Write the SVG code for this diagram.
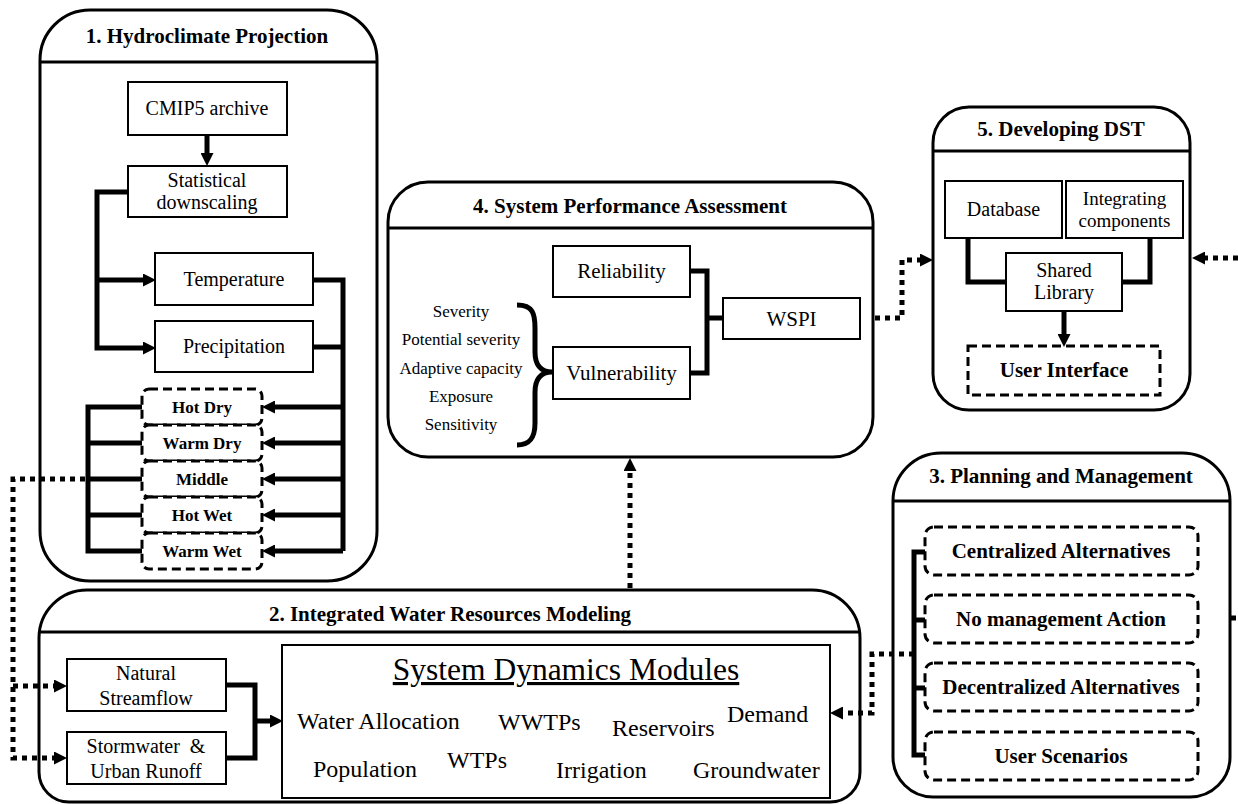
<svg xmlns="http://www.w3.org/2000/svg" width="1238" height="804" viewBox="0 0 1238 804">
<defs>
<marker id="ah" viewBox="0 0 10 10" refX="0" refY="5" markerWidth="13" markerHeight="13" markerUnits="userSpaceOnUse" orient="auto"><path d="M0,0 L10,5 L0,10 z" fill="#000"/></marker>
</defs>
<style>
text{font-family:"Liberation Serif","Times New Roman",serif;fill:#000}
.t{font-weight:bold;font-size:21px;text-anchor:middle}
.b{fill:#fff;stroke:#000;stroke-width:2}
.o{fill:none;stroke:#000;stroke-width:3}
.d{fill:#fff;stroke:#000;stroke-width:3;stroke-dasharray:9 5}
.n{font-size:20px;text-anchor:middle}
.s{font-weight:bold;font-size:17px;text-anchor:middle}
.m{font-size:24px}
.c{fill:none;stroke:#000;stroke-width:5}
.dot{fill:none;stroke:#000;stroke-width:5;stroke-dasharray:5 5}
.a{marker-end:url(#ah)}
</style>
<rect width="1238" height="804" fill="#fff"/>

<g id="n1">
<path class="o" d="M90,10 H327 A50,50 0 0 1 377,60 V531 A50,50 0 0 1 327,581 H90 A50,50 0 0 1 40,531 V60 A50,50 0 0 1 90,10 Z"/>
<line class="o" x1="40" y1="62" x2="377" y2="62"/>
<text class="t" x="207" y="43">1. Hydroclimate Projection</text>
</g>
<g id="cmip5"><rect class="b" x="128" y="82" width="159" height="53"/><text class="n" x="207" y="115">CMIP5 archive</text></g>
<g id="downscaling"><rect class="b" x="128" y="166" width="159" height="51"/><text class="n" x="207" y="187">Statistical</text><text class="n" x="207" y="209">downscaling</text></g>
<g id="temperature"><rect class="b" x="155" y="253" width="158" height="52"/><text class="n" x="234" y="286">Temperature</text></g>
<g id="precipitation"><rect class="b" x="155" y="321" width="158" height="51"/><text class="n" x="234" y="353">Precipitation</text></g>
<g id="hotdry"><rect class="d" x="142" y="389" width="120" height="36" rx="7"/><text class="s" x="202" y="413">Hot Dry</text></g>
<g id="warmdry"><rect class="d" x="142" y="425" width="120" height="36" rx="7"/><text class="s" x="202" y="449">Warm Dry</text></g>
<g id="middle"><rect class="d" x="142" y="461" width="120" height="36" rx="7"/><text class="s" x="202" y="485">Middle</text></g>
<g id="hotwet"><rect class="d" x="142" y="497" width="120" height="36" rx="7"/><text class="s" x="202" y="521">Hot Wet</text></g>
<g id="warmwet"><rect class="d" x="142" y="533" width="120" height="36" rx="7"/><text class="s" x="202" y="557">Warm Wet</text></g>

<g id="n2">
<path class="o" d="M87,590 H812 A48,48 0 0 1 860,638 V772 A30,30 0 0 1 830,802 H69 A30,30 0 0 1 39,772 V638 A48,48 0 0 1 87,590 Z"/>
<line class="o" x1="39" y1="632" x2="860" y2="632"/>
<text class="t" x="450" y="621">2. Integrated Water Resources Modeling</text>
</g>
<g id="streamflow"><rect class="b" x="67" y="659" width="159" height="52"/><text class="n" x="146" y="680">Natural</text><text class="n" x="146" y="705">Streamflow</text></g>
<g id="stormwater"><rect class="b" x="67" y="732" width="159" height="52"/><text class="n" x="146" y="753" xml:space="preserve">Stormwater  &amp;</text><text class="n" x="146" y="778">Urban Runoff</text></g>
<g id="sdm">
<rect class="b" x="282" y="645" width="548" height="153"/>
<text x="566" y="680" font-size="31.5" text-anchor="middle" text-decoration="underline">System Dynamics Modules</text>
<text class="m" x="297" y="729">Water Allocation</text>
<text class="m" x="498" y="730">WWTPs</text>
<text class="m" x="612" y="736">Reservoirs</text>
<text class="m" x="727" y="722">Demand</text>
<text class="m" x="313" y="777">Population</text>
<text class="m" x="447" y="768">WTPs</text>
<text class="m" x="556" y="778">Irrigation</text>
<text class="m" x="693" y="778">Groundwater</text>
</g>

<g id="n3">
<path class="o" d="M941,453 H1182 A48,48 0 0 1 1230,501 V757 A40,40 0 0 1 1190,797 H933 A40,40 0 0 1 893,757 V501 A48,48 0 0 1 941,453 Z"/>
<line class="o" x1="893" y1="501" x2="1230" y2="501"/>
<text class="t" x="1061" y="483">3. Planning and Management</text>
</g>
<g id="centralized"><rect class="d" x="925" y="527" width="273" height="48" rx="9"/><text class="t" x="1061" y="558">Centralized Alternatives</text></g>
<g id="nomanagement"><rect class="d" x="925" y="595" width="273" height="48" rx="9"/><text class="t" x="1061" y="626">No management Action</text></g>
<g id="decentralized"><rect class="d" x="925" y="663" width="273" height="48" rx="9"/><text class="t" x="1061" y="694">Decentralized Alternatives</text></g>
<g id="userscenarios"><rect class="d" x="925" y="732" width="273" height="48" rx="9"/><text class="t" x="1061" y="763">User Scenarios</text></g>

<g id="n4">
<path class="o" d="M428,182 H833 A40,40 0 0 1 873,222 V417 A40,40 0 0 1 833,457 H428 A40,40 0 0 1 388,417 V222 A40,40 0 0 1 428,182 Z"/>
<line class="o" x1="388" y1="228" x2="873" y2="228"/>
<text class="t" x="630" y="213">4. System Performance Assessment</text>
</g>
<g id="reliability"><rect class="b" x="553" y="246" width="137" height="51"/><text x="621.5" y="278" font-size="21" text-anchor="middle">Reliability</text></g>
<g id="vulnerability"><rect class="b" x="553" y="347" width="137" height="52"/><text x="621.5" y="380" font-size="21" text-anchor="middle">Vulnerability</text></g>
<g id="wspi"><rect class="b" x="723" y="298" width="137" height="41"/><text x="791.5" y="326" font-size="21" text-anchor="middle">WSPI</text></g>
<g id="factors" font-size="17" text-anchor="middle">
<text x="461" y="317">Severity</text>
<text x="461" y="345">Potential severity</text>
<text x="461" y="374">Adaptive capacity</text>
<text x="461" y="402">Exposure</text>
<text x="461" y="430">Sensitivity</text>
</g>

<g id="n5">
<path class="o" d="M969,107 H1154 A36,36 0 0 1 1190,143 V374 A36,36 0 0 1 1154,410 H969 A36,36 0 0 1 933,374 V143 A36,36 0 0 1 969,107 Z"/>
<line class="o" x1="933" y1="151" x2="1190" y2="151"/>
<text class="t" x="1061" y="136">5. Developing DST</text>
</g>
<g id="database"><rect class="b" x="945" y="181" width="117" height="57"/><text class="n" x="1003.5" y="216">Database</text></g>
<g id="integrating"><rect class="b" x="1066" y="181" width="117" height="57"/><text x="1124.5" y="205" font-size="19" text-anchor="middle">Integrating</text><text x="1124.5" y="227" font-size="19" text-anchor="middle">components</text></g>
<g id="sharedlib"><rect class="b" x="1006" y="253" width="116" height="58"/><text class="n" x="1064" y="277">Shared</text><text class="n" x="1064" y="299">Library</text></g>
<g id="userinterface"><rect fill="#fff" stroke="#000" stroke-width="3" stroke-dasharray="9 5" x="968" y="346" width="192" height="49"/><text class="t" x="1064" y="377">User Interface</text></g>

<g id="connectors">
<path class="c a" d="M207,135 V153"/>
<path class="c a" d="M128,192 H97 V348 H143"/>
<path class="c a" d="M97,280 H143"/>
<path class="c" d="M313,280 H343 V551"/>
<path class="c" d="M313,347 H343"/>
<path class="c a" d="M343,407 H275"/>
<path class="c a" d="M343,443 H275"/>
<path class="c a" d="M343,479 H275"/>
<path class="c a" d="M343,515 H275"/>
<path class="c a" d="M343,551 H275"/>
<path class="c" d="M142,407 H88 V551 H142"/>
<path class="c" d="M88,443 H142 M88,479 H142 M88,515 H142"/>
<path class="dot a" d="M85,479 H13 V758 H54"/>
<path class="dot a" d="M13,686 H54"/>
<path class="c" d="M226,685 H255 V758 H226"/>
<path class="c a" d="M255,721 H270"/>
<path class="c" d="M690,271 H707 V373 H690 M707,318 H723"/>
<path class="c" d="M517,305 C533,305 535,314 535,328 V352 C535,364 540,372 552,372 C540,372 535,380 535,392 V423 C535,438 530,445 517,445"/>
<path class="dot a" d="M630,588 V471"/>
<path class="dot a" d="M875,318 H902 V260 H920"/>
<path class="dot a" d="M1238,258 H1205"/>
<path class="c" d="M968,238 V282 H1006 M1150,238 V282 H1122"/>
<path class="c a" d="M1064,311 V334"/>
<path class="c" d="M925,552 H914 V755 H925 M914,620 H925 M914,688 H925" stroke-width="4"/>
<path class="dot a" d="M914,654 H872 V713 H843"/>
<path class="dot" d="M1231,618 H1238"/>
</g>
</svg>
